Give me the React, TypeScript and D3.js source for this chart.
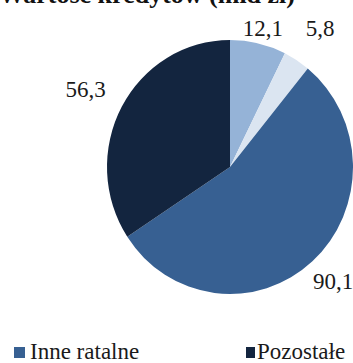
import React from "react";
import * as d3 from "d3";

const categories = ["Mieszkaniowe", "Samochodowe", "Inne ratalne", "Pozostałe"];
const values = [12.1, 5.8, 90.1, 56.3];
const labels = ["12,1", "5,8", "90,1", "56,3"];
const colors = ["#95B3D7", "#DBE5F1", "#376092", "#13253F"];
const labelRadius = [143, 166, 154, 164];
const legendItems = [2, 3];

const W = 353;
const H = 363;
const cx = 230;
const cy = 167;
const R = 123;
const yScale = 127 / 123;

export default function App() {
  const pie = d3.pie<number>().sort(null).value((d) => d)(values);
  const arc = d3.arc<d3.PieArcDatum<number>>().innerRadius(0).outerRadius(R);
  const font = "'Liberation Serif', 'DejaVu Serif', 'Times New Roman', serif";
  return (
    <svg
      width={W}
      height={H}
      style={{ position: "absolute", left: 0, top: 0, background: "#fff" }}
    >
      <text
        x={295}
        y={3}
        textAnchor="end"
        style={{ fontFamily: font }}
        fontSize={26}
        fontWeight="bold"
        fill="#111"
      >
        Wartość kredytów (mld zł)
      </text>
      <g transform={`translate(${cx},${cy}) scale(1,${yScale})`}>
        {pie.map((p, i) => (
          <path key={i} d={arc(p) || ""} fill={colors[i]} />
        ))}
      </g>
      {pie.map((p, i) => {
        const a = (p.startAngle + p.endAngle) / 2;
        const x = cx + Math.sin(a) * labelRadius[i];
        const y = cy - Math.cos(a) * labelRadius[i];
        return (
          <text
            key={i}
            x={x}
            y={y}
            dy="0.35em"
            textAnchor="middle"
            style={{ fontFamily: font }}
            fontSize={23}
            fill="#1a1a1a"
          >
            {labels[i]}
          </text>
        );
      })}
      {legendItems.map((ci, k) => {
        const x0 = k === 0 ? 14 : 246;
        const sw = k === 0 ? 11 : 9;
        return (
          <g key={ci}>
            <rect x={x0} y={347} width={sw} height={11} fill={colors[ci]} />
            <text
              x={x0 + sw + (k === 0 ? 5 : 2)}
              y={359}
              style={{ fontFamily: font }}
              fontSize={23}
              fill="#1a1a1a"
            >
              {categories[ci]}
            </text>
          </g>
        );
      })}
    </svg>
  );
}
